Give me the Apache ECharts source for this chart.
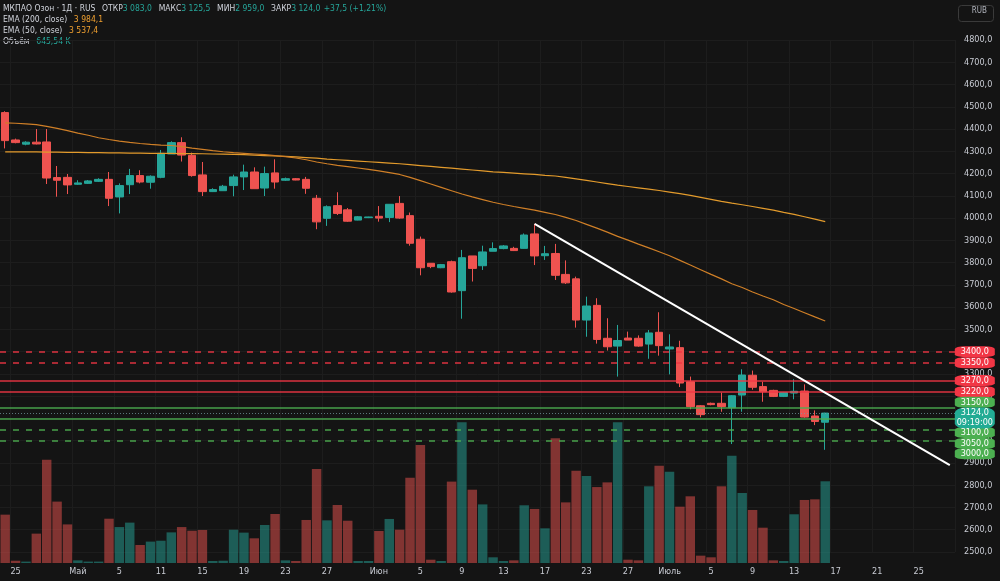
<!DOCTYPE html>
<html lang="ru">
<head>
<meta charset="UTF-8">
<title>МКПАО Озон · 1Д</title>
<script src="https://cdn.jsdelivr.net/npm/echarts@6/dist/echarts.min.js"></script>
<style>
  html, body { margin: 0; padding: 0; background: #141414; }
  #chart { width: 1000px; height: 581px; }
</style>
</head>
<body>
<div id="chart"></div>
<script>
// даты (торговые дни + будущие слоты справа)
var dates = [
  "24.04","25.04","26.04","27.04","28.04","29.04","30.04",
  "01.05","02.05","03.05","04.05","05.05","06.05","07.05","08.05",
  "11.05","12.05","13.05","14.05","15.05","16.05","17.05","18.05","19.05","20.05","21.05",
  "22.05","23.05","24.05","25.05","26.05","27.05","28.05","29.05","30.05","31.05",
  "01.06","02.06","03.06","04.06","05.06","06.06","07.06","08.06","09.06","10.06",
  "11.06","12.06","13.06","14.06","15.06","16.06","17.06","18.06","19.06","20.06",
  "23.06","24.06","25.06","26.06","27.06","28.06","29.06","30.06",
  "01.07","02.07","03.07","04.07","05.07","06.07","07.07","08.07","09.07","10.07",
  "11.07","12.07","13.07","14.07","15.07","16.07","17.07","18.07","19.07","20.07",
  "21.07","22.07","23.07","24.07","25.07","26.07","27.07","28.07"
];
var tickIdx  = [1, 7, 11, 15, 19, 23, 27, 31, 36, 40, 44, 48, 52, 56, 60, 64, 68, 72, 76, 80, 84, 88];
var tickText = ["25","Май","5","11","15","19","23","27","Июн","5","9","13","17","23","27","Июль","5","9","13","17","21","25"];

var openP = [
  4474,4351,4332,4341,4342,4182,4183,4152,4156,4165,
  4174,4095,4150,4191,4161,4183,4288,4339,4282,4194,
  4119,4123,4146,4185,4207,4135,4203,4170,4177,4174,
  4089,3999,4056,4037,3991,4002,4008,4003,4066,4011,
  3905,3797,3777,3804,3674,3830,3786,3851,3863,3864,
  3864,3929,3831,3841,3747,3727,3542,3608,3460,3425,
  3461,3460,3434,3487,3412,3418,3265,3157,3168,3168,
  3148,3205,3294,3243,3226,3199,3214,3223,3111,3083
];
var highP = [
  4480,4357,4345,4400,4400,4234,4198,4170,4171,4179,
  4207,4156,4221,4215,4192,4306,4345,4363,4294,4252,
  4134,4149,4195,4240,4228,4231,4264,4182,4180,4185,
  4104,4057,4116,4045,4009,4006,4054,4062,4099,4025,
  3917,3797,3794,3809,3857,3830,3876,3891,3879,3871,
  3931,3974,3875,3884,3810,3737,3647,3640,3550,3520,
  3490,3473,3497,3577,3478,3449,3288,3160,3171,3216,
  3205,3321,3315,3265,3229,3219,3276,3253,3136,3125.5
];
var lowP = [
  4313,4336,4327,4331,4153,4096,4108,4149,4153,4162,
  4054,4021,4108,4156,4132,4179,4288,4254,4186,4099,
  4117,4122,4098,4126,4132,4099,4132,4167,4170,4109,
  3950,3965,4014,3983,3990,4000,3984,3982,3997,3876,
  3743,3775,3775,3665,3548,3715,3767,3851,3860,3852,
  3863,3789,3812,3722,3704,3508,3467,3436,3405,3288,
  3452,3422,3368,3382,3298,3241,3141,3105,3159,3130,
  2985,3130,3229,3175,3196,3196,3186,3103,3070,2959
];
var closeP = [
  4348,4339,4341,4333,4180,4170,4149,4158,4167,4174,
  4089,4146,4191,4162,4188,4291,4339,4283,4191,4119,
  4128,4143,4185,4207,4132,4200,4162,4177,4171,4134,
  3983,4051,4021,3986,4006,4005,4000,4062,4000,3887,
  3777,3782,3791,3668,3822,3774,3848,3863,3875,3854,
  3924,3830,3840,3743,3709,3542,3605,3455,3422,3450,
  3452,3425,3484,3427,3421,3259,3153,3117,3162,3153,
  3202,3295,3240,3220,3199,3216,3222,3106,3086.5,3124
];
// объём, тыс.
var volume = [
  382,18,11,232,816,485,305,21,11,11,
  350,284,319,142,169,176,242,284,255,261,
  16,18,263,240,195,300,387,21,16,340,
  743,337,458,334,16,16,253,348,263,674,
  932,26,16,643,1111,579,463,45,16,21,
  456,427,274,985,479,729,687,600,637,1111,
  26,21,606,769,721,445,527,58,45,606,
  848,553,419,279,21,16,385,498,503,645.54
];
var ema200 = [
  4297,4297,4297,4297,4296,4296,4295,4295,4294,4294,
  4293,4293,4292,4292,4291,4291,4291,4290,4290,4289,
  4288,4287,4286,4285,4283,4281,4279,4277,4275,4272,
  4269,4265,4262,4259,4256,4253,4250,4247,4244,4240,
  4236,4232,4228,4224,4220,4216,4212,4208,4205,4202,
  4199,4196,4192,4189,4183,4176,4169,4162,4155,4148,
  4142,4136,4130,4124,4117,4110,4102,4093,4084,4075,
  4067,4060,4052,4044,4036,4026,4017,4006,3995,3984.1
];
var ema50 = [
  4428,4426,4423,4420,4412,4403,4393,4382,4372,4361,
  4353,4346,4340,4335,4331,4328,4326,4321,4314,4309,
  4303,4298,4294,4291,4288,4285,4281,4276,4270,4262,
  4252,4244,4237,4231,4225,4219,4212,4204,4196,4183,
  4168,4153,4138,4123,4108,4095,4083,4071,4061,4052,
  4044,4036,4026,4016,4003,3989,3972,3955,3937,3918,
  3901,3883,3866,3849,3831,3810,3789,3768,3747,3727,
  3705,3688,3668,3650,3633,3612,3594,3575,3556,3537.4
];
// линия тренда
var trendIdx = [51, 91];
var trendVal = [3974, 2890];
// горизонтальные уровни
var levels = [3400, 3350, 3270, 3220, 3150, 3100, 3050, 3000];
var tagShift = [0, 0, 0, 0, -5, 14, 14, 13];

var RED = '#f23645', GREEN = '#4caf50';
var UP = '#26a69a', DOWN = '#ef5350';
var FONT = "'Liberation Sans Narrow','DejaVu Sans Condensed','Liberation Sans',sans-serif";

function axisFmt(v) { return v.toFixed(1).replace('.', ','); }
function fmt(v) { return axisFmt(v).replace(/^(\d)(\d{3})/, '$1 $2'); }

var n = closeP.length;
var candles = closeP.map(function (c, i) { return [openP[i], c, lowP[i], highP[i]]; });
var volData = volume.map(function (v, i) {
  return { value: v, itemStyle: { color: closeP[i] >= openP[i] ? 'rgba(38,166,154,0.5)' : 'rgba(239,83,80,0.5)' } };
});
var trendData = trendIdx.map(function (x, i) { return [x, trendVal[i]]; });

var levelLines = levels.map(function (v, i) {
  var dashed = (i < 2 || i > 5);
  return {
    yAxis: v,
    lineStyle: { color: i < 4 ? RED : GREEN, width: 1.5, type: dashed ? [6, 7] : 'solid', opacity: 0.9 }
  };
});
var last = closeP[n - 1];
levelLines.push({ yAxis: last, lineStyle: { color: 'rgba(120,160,170,0.7)', width: 1, type: [1, 2] } });

var tags = levels.map(function (v, i) {
  return {
    coord: [dates.length - 1, v],
    symbol: 'roundRect',
    symbolSize: [40, 11],
    symbolOffset: [25, tagShift[i]],
    itemStyle: { color: i < 4 ? RED : GREEN },
    label: { show: true, position: 'inside', formatter: axisFmt(v), color: '#fff', fontSize: 9, fontFamily: FONT }
  };
});
tags.push({
  coord: [dates.length - 1, last],
  symbol: 'roundRect',
  symbolSize: [40, 21],
  symbolOffset: [25, 5],
  itemStyle: { color: '#22ab94' },
  label: { show: true, position: 'inside', formatter: axisFmt(last) + '\n09:19:00', color: '#fff', fontSize: 9, lineHeight: 10, fontFamily: FONT }
});

var prev = closeP[n - 2];
var chg = last - prev;
var legend1 = '{l|МКПАО Озон · 1Д · RUS}  {l|ОТКР}{v|' + fmt(openP[n - 1]) + '}  {l|МАКС}{v|' + fmt(highP[n - 1]) +
  '}  {l|МИН}{v|' + fmt(lowP[n - 1]) + '}  {l|ЗАКР}{v|' + fmt(last) + '} {v|+' + axisFmt(chg) +
  ' (+' + (chg / prev * 100).toFixed(2).replace('.', ',') + '%)}';
var richLeg = {
  l: { fill: '#d1d4dc', fontSize: 8.5, fontFamily: FONT },
  v: { fill: '#26a69a', fontSize: 8.5, fontFamily: FONT },
  o: { fill: '#f0a030', fontSize: 8.5, fontFamily: FONT }
};

var chart = echarts.init(document.getElementById('chart'));
var option = {
  backgroundColor: '#141414',
  animation: false,
  graphic: [
    { type: 'text', left: 3, top: 3, style: { text: legend1, rich: richLeg, fill: '#d1d4dc' } },
    { type: 'text', left: 3, top: 14, style: { text: '{l|EMA (200, close)}  {o|' + fmt(ema200[n - 1]) + '}', rich: richLeg, fill: '#d1d4dc' } },
    { type: 'text', left: 3, top: 25, style: { text: '{l|EMA (50, close)}  {o|' + fmt(ema50[n - 1]) + '}', rich: richLeg, fill: '#d1d4dc' } },
    { type: 'text', left: 3, top: 36, style: { text: '{l|Объём}  {v|' + volume[n - 1].toFixed(2).replace('.', ',') + ' K}', rich: richLeg, fill: '#d1d4dc' } },
    { type: 'rect', right: 4, top: 3, shape: { width: 35, height: 16, r: 3 }, style: { fill: 'none', stroke: '#3a3a3a', lineWidth: 1 } },
    { type: 'text', right: 13, top: 7, style: { text: 'RUB', fill: '#b2b5be', fontSize: 8, fontFamily: FONT } }
  ],
  grid: [
    { left: 0, right: 45, top: 40, bottom: 29 },
    { left: 0, right: 45, top: 363, bottom: 18 }
  ],
  xAxis: [
    {
      type: 'category', gridIndex: 0, data: dates,
      axisLine: { show: false }, axisTick: { show: false }, axisLabel: { show: false },
      splitLine: { show: true, interval: function (i) { return tickIdx.indexOf(i) >= 0; }, lineStyle: { color: '#1d1d1d' } }
    },
    {
      type: 'category', gridIndex: 1, data: dates,
      axisLine: { show: false }, axisTick: { show: false },
      axisLabel: {
        interval: function (i) { return tickIdx.indexOf(i) >= 0; },
        formatter: function (v, i) { var k = tickIdx.indexOf(i); return k >= 0 ? tickText[k] : ''; },
        color: '#c9ccd4', fontSize: 9, fontFamily: FONT, margin: 4
      },
      splitLine: { show: false }
    }
  ],
  yAxis: [
    {
      type: 'value', gridIndex: 0, position: 'right', min: 2500, max: 4800, interval: 100,
      axisLine: { show: false }, axisTick: { show: false },
      axisLabel: { color: '#c9ccd4', fontSize: 9, fontFamily: FONT, margin: 9, formatter: axisFmt },
      splitLine: { lineStyle: { color: '#1d1d1d' } }
    },
    {
      type: 'value', gridIndex: 1, min: 0, max: 1580, show: false,
      splitLine: { show: false }
    }
  ],
  series: [
    {
      type: 'bar', xAxisIndex: 1, yAxisIndex: 1, data: volData,
      barCategoryGap: '9%', z: 1
    },
    {
      type: 'candlestick', xAxisIndex: 0, yAxisIndex: 0, data: candles, barWidth: 8,
      itemStyle: { color: UP, color0: DOWN, borderColor: UP, borderColor0: DOWN, borderWidth: 1 },
      z: 3
    },
    {
      type: 'line', name: 'EMA 200', data: ema200, showSymbol: false, symbol: 'none',
      lineStyle: { color: '#e39b2c', width: 1.2 }, z: 4
    },
    {
      type: 'line', name: 'EMA 50', data: ema50, showSymbol: false, symbol: 'none',
      lineStyle: { color: '#cf7f27', width: 1.2 }, z: 4
    },
    {
      type: 'line', name: 'trend', data: trendData, showSymbol: false, symbol: 'none', clip: false,
      lineStyle: { color: '#ffffff', width: 2 }, z: 5,
      markLine: { symbol: ['none', 'none'], silent: true, label: { show: false }, data: levelLines },
      markPoint: { silent: true, data: tags }
    }
  ]
};
chart.setOption(option);
</script>
</body>
</html>
